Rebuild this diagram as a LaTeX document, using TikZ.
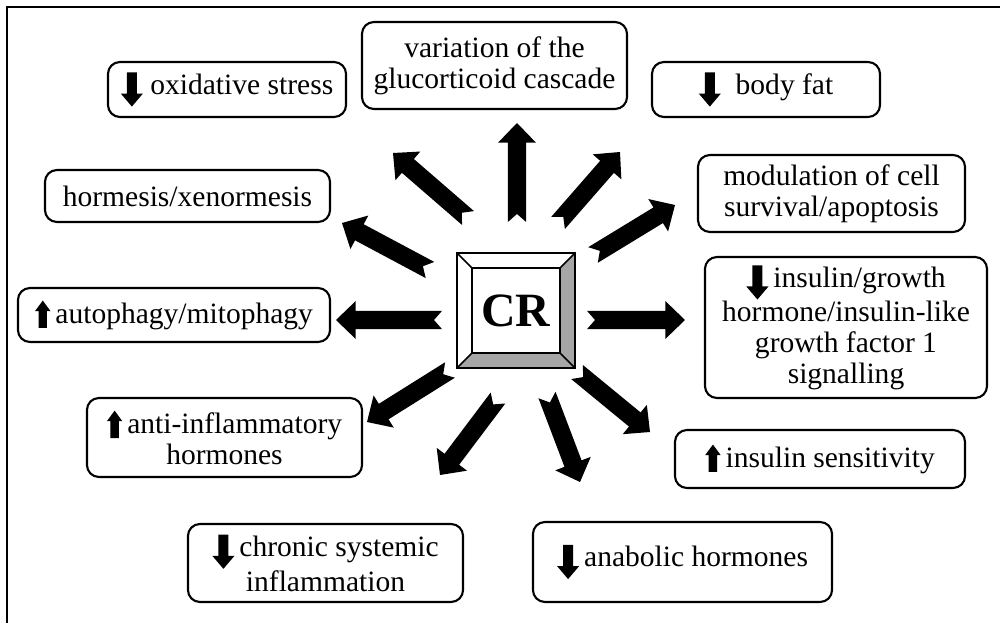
\documentclass[tikz,border=0pt]{standalone}
\usepackage{fontspec}
\setmainfont{Liberation Serif}
\usetikzlibrary{calc}
\newcommand\dnarr{\tikz[x=1pt,y=1pt,baseline=0pt,sharp corners]\fill[black,sharp corners] (-3.6,15.5) -- (3.6,15.5) -- (3.6,0.5) -- (7.9,0.5) -- (0,-8.8) -- (-7.9,0.5) -- (-3.6,0.5) -- cycle;}
\newcommand\uparr{\tikz[x=1pt,y=1pt,baseline=0pt,sharp corners]\fill[black,sharp corners] (-3,-3.5) -- (3,-3.5) -- (3,8.5) -- (5.5,8.5) -- (0,16) -- (-5.5,8.5) -- (-3,8.5) -- cycle;}
\newcommand\bigarrow[2]{%
  \fill[black] ($(#1)!6.5pt!90:(#2)$)
    -- ($(#2)!14pt!(#1)!6.5pt!90:(#2)$)
    -- ($(#2)!14pt!(#1)!13.5pt!90:(#2)$)
    -- (#2)
    -- ($(#2)!14pt!(#1)!13.5pt!-90:(#2)$)
    -- ($(#2)!14pt!(#1)!6.5pt!-90:(#2)$)
    -- ($(#1)!6.5pt!-90:(#2)$)
    -- ($(#1)!5.7pt!(#2)$) -- cycle;}
\begin{document}
\begin{tikzpicture}[x=0.025cm,y=-0.025cm,
  box/.style={draw,line width=1.5pt,rounded corners=0.3cm,align=center,inner sep=0pt,
    font=\fontsize{21}{22}\selectfont}]
\useasboundingbox (0,0) rectangle (1000,623);
\draw[line width=1.6pt] (7,623) -- (7,7) -- (1000,7);
% boxes
\node[box,minimum width=5.95cm,minimum height=1.375cm] (ox) at (227,89.5) {\dnarr\ oxidative stress};
\node[box,minimum width=6.625cm,minimum height=2.175cm] (var) at (494.5,65.5) {variation of the\\glucorticoid cascade};
\node[box,minimum width=5.7cm,minimum height=1.375cm] (fat) at (766,89.5) {\dnarr\ \ body fat};
\node[box,minimum width=7.125cm,minimum height=1.3cm] (horm) at (187.5,196) {hormesis/xenormesis};
\node[box,minimum width=6.675cm,minimum height=1.925cm] (mod) at (831.5,193.5) {modulation of cell\\survival/apoptosis};
\node[box,minimum width=7.8cm,minimum height=1.35cm] (auto) at (174,315) {\uparr\,autophagy/mitophagy};
\node[box,minimum width=7.05cm,minimum height=3.525cm] (ins) at (846,327.5) {\dnarr\,insulin/growth\\hormone/insulin-like\\growth factor 1\\signalling};
\node[box,minimum width=6.875cm,minimum height=1.975cm] (anti) at (224.5,437.5) {\uparr\,anti-inflammatory\\hormones};
\node[box,minimum width=6.875cm,minimum height=1.95cm] (chr) at (325.5,563) {\dnarr\,chronic systemic\\inflammation};
\node[box,minimum width=7.25cm,minimum height=1.45cm] (sens) at (820,459) {\uparr\,insulin sensitivity};
\node[box,minimum width=7.475cm,minimum height=2.0cm] (anab) at (682.5,562) {\dnarr\,anabolic hormones};
% CR bevel box
\fill[gray!70] (575,253) -- (575,368) -- (560,353) -- (560,268) -- cycle;
\fill[gray!70] (457,368) -- (575,368) -- (560,353) -- (472,353) -- cycle;
\draw[line width=1.5pt] (457,253) rectangle (575,368);
\draw[line width=1.3pt] (472,268) rectangle (560,353);
\draw[line width=1.1pt] (457,253) -- (472,268) (575,253) -- (560,268) (457,368) -- (472,353) (575,368) -- (560,353);
\node[font=\fontsize{34}{40}\selectfont\bfseries] (cr) at (516,311) {CR};
% arrow ends
\coordinate (t1) at (468,218); \coordinate (h1) at (393,153);
\coordinate (t2) at (517,222); \coordinate (h2) at (517,123);
\coordinate (t3) at (558,223); \coordinate (h3) at (620,152);
\coordinate (t4) at (593,255); \coordinate (h4) at (675,205);
\coordinate (t5) at (430,270); \coordinate (h5) at (342,223);
\coordinate (t6) at (442,320); \coordinate (h6) at (336,320);
\coordinate (t7) at (587,320); \coordinate (h7) at (685,320);
\coordinate (t8) at (450,370); \coordinate (h8) at (367,422);
\coordinate (t9) at (498,398); \coordinate (h9) at (440,475);
\coordinate (t10) at (547,395); \coordinate (h10) at (580,482);
\coordinate (t11) at (577,372); \coordinate (h11) at (650,432);
\bigarrow{t1}{h1}
\bigarrow{t2}{h2}
\bigarrow{t3}{h3}
\bigarrow{t4}{h4}
\bigarrow{t5}{h5}
\bigarrow{t6}{h6}
\bigarrow{t7}{h7}
\bigarrow{t8}{h8}
\bigarrow{t9}{h9}
\bigarrow{t10}{h10}
\bigarrow{t11}{h11}
\end{tikzpicture}
\end{document}
